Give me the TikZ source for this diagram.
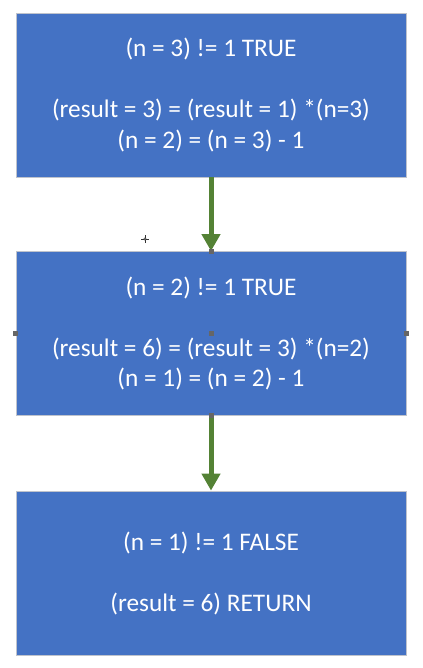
\documentclass[tikz,border=0pt]{standalone}
\usepackage{fontspec}
\setmainfont{Carlito}
\usetikzlibrary{arrows.meta}
\definecolor{boxblue}{HTML}{4472C4}
\definecolor{boxedge}{HTML}{BFC3CC}
\definecolor{arrgreen}{HTML}{548235}
\definecolor{handle}{HTML}{666666}
\tikzset{
  stepbox/.style={rectangle, fill=boxblue, draw=boxedge, line width=0.8bp,
    minimum width=390bp, minimum height=164bp, inner sep=0pt,
    text=white, align=center, font=\fontsize{25.3bp}{30.5bp}\selectfont},
  flow/.style={draw=arrgreen, line width=5bp, -{Triangle[width=18bp,length=17bp]}},
  grip/.style={rectangle, fill=handle, minimum size=5bp, inner sep=0pt},
}
\begin{document}
\begin{tikzpicture}[x=1bp,y=-1bp]
\useasboundingbox (0,0) rectangle (422,668);
\node[stepbox] (b1) at (211,95) {(n = 3) != 1 TRUE\\[30.5bp](result = 3) = (result = 1) *(n=3)\\(n = 2) = (n = 3) - 1};
\node[stepbox] (b2) at (211,333.5) {(n = 2) != 1 TRUE\\[30.5bp](result = 6) = (result = 3) *(n=2)\\(n = 1) = (n = 2) - 1};
\node[stepbox] (b3) at (211,573) {(n = 1) != 1 FALSE\\[30.5bp](result = 6) RETURN};
\draw[flow] (b1.south) -- (b2.north);
\draw[flow] (b2.south) -- (b3.north);
\node[grip] (g1) at (b2.north) {};
\node[grip] (g2) at (b2.west) {};
\node[grip] (g3) at (b2.center) {};
\node[grip] (g4) at (b2.east) {};
\node[grip] (g5) at (b2.south) {};
\coordinate (cur) at (145,239);
\draw[black!80, line width=0.8bp] ([xshift=-4bp]cur) -- ([xshift=4bp]cur) ([yshift=-4bp]cur) -- ([yshift=4bp]cur);
\draw[black!80, fill=white, line width=0.6bp] (cur) circle (1.2bp);
\end{tikzpicture}
\end{document}
